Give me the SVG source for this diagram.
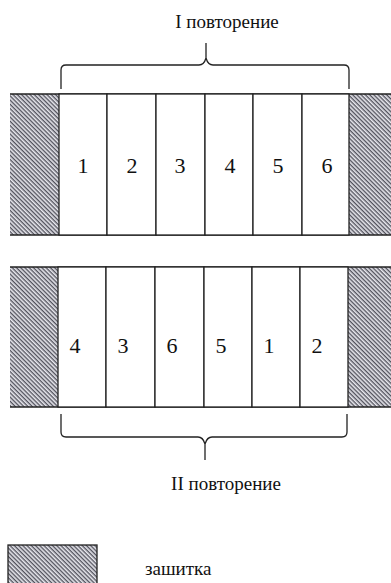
<svg xmlns="http://www.w3.org/2000/svg" width="391" height="583" viewBox="0 0 391 583">
<defs>
<pattern id="hatch" patternUnits="userSpaceOnUse" width="3" height="3" patternTransform="rotate(45)">
<rect width="3" height="3" fill="#e8e8ee"/>
<line x1="0" y1="0.7" x2="3" y2="0.7" stroke="#4a4a55" stroke-width="1.3"/>
</pattern>
</defs>
<style>
.cell{fill:#fff;stroke:#222;stroke-width:1.3}
.hatch{fill:url(#hatch);stroke:none}
.edge{stroke:#222;stroke-width:1.5;fill:none}
.num{font-family:'Times New Roman','Liberation Serif',serif;font-size:22px;fill:#111;text-anchor:middle}
.lbl{font-family:'Times New Roman','Liberation Serif',serif;font-size:19px;fill:#111;text-anchor:middle}
.brace{fill:none;stroke:#222;stroke-width:1.3}
</style>
<rect width="391" height="583" fill="#fff"/>
<g id="row1">
<rect class="hatch" x="10" y="94" width="49" height="141"/>
<rect class="hatch" x="349" y="94" width="42" height="141"/>
<line class="edge" x1="10" y1="94" x2="391" y2="94"/>
<line class="edge" x1="10" y1="235" x2="391" y2="235"/>
</g>
<g id="r1c1"><rect class="cell" x="59" y="94" width="48" height="141"/><text class="num" x="83" y="173">1</text></g>
<g id="r1c2"><rect class="cell" x="107" y="94" width="49" height="141"/><text class="num" x="132" y="173">2</text></g>
<g id="r1c3"><rect class="cell" x="156" y="94" width="49" height="141"/><text class="num" x="180" y="173">3</text></g>
<g id="r1c4"><rect class="cell" x="205" y="94" width="48" height="141"/><text class="num" x="230" y="173">4</text></g>
<g id="r1c5"><rect class="cell" x="253" y="94" width="49" height="141"/><text class="num" x="278" y="173">5</text></g>
<g id="r1c6"><rect class="cell" x="302" y="94" width="47" height="141"/><text class="num" x="327" y="173">6</text></g>
<g id="row2">
<rect class="hatch" x="10" y="267" width="48" height="140"/>
<rect class="hatch" x="348" y="267" width="43" height="140"/>
<line class="edge" x1="10" y1="267" x2="391" y2="267"/>
<line class="edge" x1="10" y1="407" x2="391" y2="407"/>
</g>
<g id="r2c1"><rect class="cell" x="58" y="267" width="48" height="140"/><text class="num" x="75" y="353">4</text></g>
<g id="r2c2"><rect class="cell" x="106" y="267" width="49" height="140"/><text class="num" x="123" y="353">3</text></g>
<g id="r2c3"><rect class="cell" x="155" y="267" width="49" height="140"/><text class="num" x="172" y="353">6</text></g>
<g id="r2c4"><rect class="cell" x="204" y="267" width="48" height="140"/><text class="num" x="221" y="353">5</text></g>
<g id="r2c5"><rect class="cell" x="252" y="267" width="48" height="140"/><text class="num" x="269" y="353">1</text></g>
<g id="r2c6"><rect class="cell" x="300" y="267" width="48" height="140"/><text class="num" x="317" y="353">2</text></g>
<g id="brace1">
<path class="brace" d="M61,89 L61,70 Q61,65 66,65 L199,65 Q204,65 206,58 L206,43 M206,58 Q208,65 213,65 L344,65 Q349,65 349,70 L349,89"/>
<text class="lbl" x="227" y="28">I повторение</text>
</g>
<g id="brace2">
<path class="brace" d="M61,414 L61,432 Q61,437 66,437 L198,437 Q203,437 205,444 L205,460 M205,444 Q207,437 212,437 L342,437 Q347,437 347,432 L347,414"/>
<text class="lbl" x="226" y="490">II повторение</text>
</g>
<g id="legend">
<rect x="8" y="545" width="89" height="40" fill="url(#hatch)" stroke="#222" stroke-width="1.3"/>
<text class="lbl" x="145" y="575" style="text-anchor:start">зашитка</text>
</g>
</svg>
